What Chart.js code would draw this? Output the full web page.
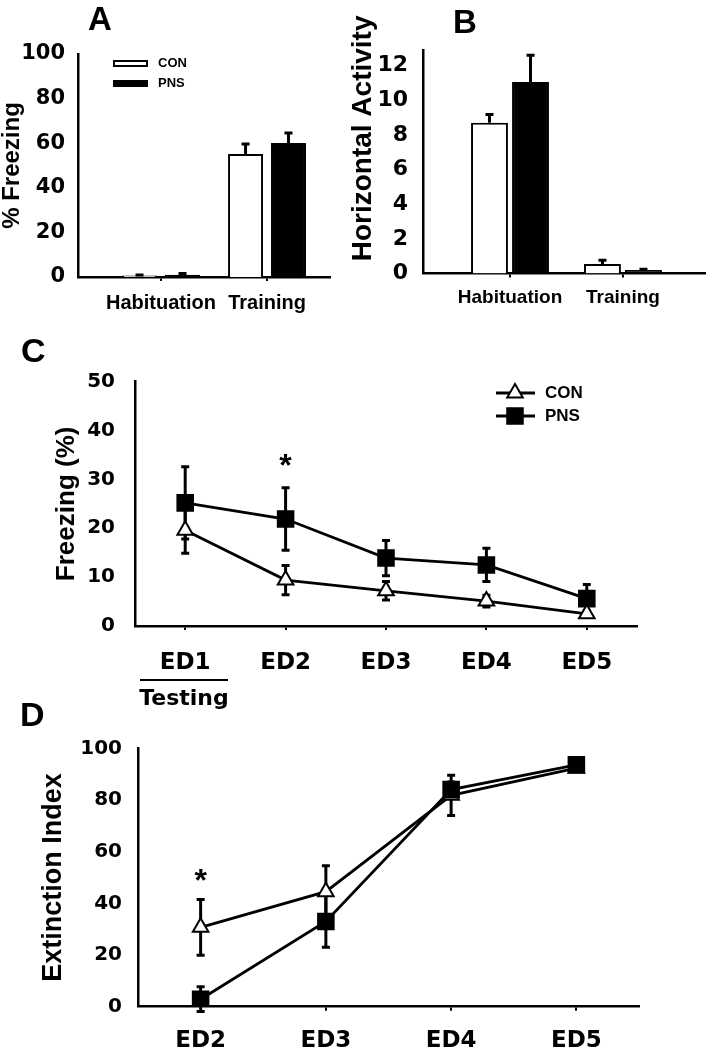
<!DOCTYPE html>
<html>
<head>
<meta charset="utf-8">
<title>Freezing and extinction</title>
<script src="https://cdn.jsdelivr.net/npm/chart.js@4.4.1/dist/chart.umd.min.js"></script>
<style>
body { margin: 0; background: #fff; }
#page { position: relative; width: 706px; height: 1050px; overflow: hidden; background: #fff; }
#page canvas { position: absolute; }
</style>
</head>
<body>
<div id="page">
  <canvas id="panelA" width="340" height="330" style="left:0px;top:0px"></canvas>
  <canvas id="panelB" width="366" height="330" style="left:340px;top:0px"></canvas>
  <canvas id="panelC" width="706" height="400" style="left:0px;top:320px"></canvas>
  <canvas id="panelD" width="706" height="360" style="left:0px;top:690px"></canvas>
</div>
<script>
const SANS = '"Liberation Sans", Arial, sans-serif';
const WIDE = '"DejaVu Sans", Verdana, sans-serif';

// A: % freezing
const phases = ['Habituation', 'Training'];
const freezeCon = [0.7, 55.2];
const freezeConSem = [0.2, 4.4];
const freezePns = [1.0, 60.1];
const freezePnsSem = [0.6, 4.5];

// B: horizontal activity
const activityCon = [8.7, 0.55];
const activityConSem = [0.47, 0.22];
const activityPns = [11.05, 0.2];
const activityPnsSem = [1.55, 0.05];

// C: freezing over extinction days
const testDays = ['ED1', 'ED2', 'ED3', 'ED4', 'ED5'];
const testCon = [19.6, 9.4, 7.2, 5.1, 2.5];
const testConSem = [4.7, 3.0, 1.9, 1.2, 0.6];
const testPns = [25.2, 21.9, 13.9, 12.5, 5.6];
const testPnsSem = [7.4, 6.4, 3.6, 3.4, 2.9];

// D: extinction index
const extDays = ['ED2', 'ED3', 'ED4', 'ED5'];
const extCon = [30.7, 44.5, 81.8, 92.3];
const extConSem = [10.8, 10.0, 7.8, 1.0];
const extPns = [2.9, 33.0, 84.0, 93.6];
const extPnsSem = [4.8, 10.0, 3.0, 1.0];

// error bars, drawn from each dataset's "errors" list
function errorBars(upOnly, under) {
    function draw(chart) {
        const ctx = chart.ctx;
        ctx.save();
        ctx.strokeStyle = '#000';
        ctx.lineWidth = 3;
        chart.data.datasets.forEach((ds, i) => {
            const meta = chart.getDatasetMeta(i);
            const yScale = chart.scales[meta.yAxisID];
            meta.data.forEach((el, j) => {
                const v = meta.controller.getParsed(j).y;
                const e = ds.errors[j];
                const top = yScale.getPixelForValue(v + e);
                const bot = upOnly ? yScale.getPixelForValue(v) : yScale.getPixelForValue(v - e);
                ctx.beginPath();
                ctx.moveTo(el.x, bot);
                ctx.lineTo(el.x, top);
                ctx.moveTo(el.x - 4, top);
                ctx.lineTo(el.x + 4, top);
                if (!upOnly) {
                    ctx.moveTo(el.x - 4, bot);
                    ctx.lineTo(el.x + 4, bot);
                }
                ctx.stroke();
            });
        });
        ctx.restore();
    }
    return {
        id: 'errorBars',
        beforeDatasetsDraw(chart) { if (under) draw(chart); },
        afterDatasetsDraw(chart) { if (!under) draw(chart); }
    };
}

// panel letters, asterisks and other loose text
function notes(items) {
    return {
        id: 'notes',
        afterDraw(chart) {
            const ctx = chart.ctx;
            ctx.save();
            ctx.fillStyle = '#000';
            ctx.strokeStyle = '#000';
            items.forEach(it => {
                if (it.line) {
                    ctx.beginPath();
                    ctx.lineWidth = it.width;
                    ctx.moveTo(it.line[0], it.line[1]);
                    ctx.lineTo(it.line[2], it.line[3]);
                    ctx.stroke();
                    return;
                }
                let x = it.x, y = it.y;
                if (it.at) {
                    x = chart.scales.x.getPixelForValue(it.at[0]);
                    y = chart.scales.y.getPixelForValue(it.at[1]) + (it.dy || 0);
                }
                ctx.font = it.font;
                ctx.textAlign = it.align || 'left';
                ctx.textBaseline = it.baseline || 'alphabetic';
                ctx.fillText(it.text, x, y);
            });
            ctx.restore();
        }
    };
}

// legend drawn inside the plot
function key(o) {
    return {
        id: 'key',
        afterDraw(chart) {
            const ctx = chart.ctx;
            ctx.save();
            chart.data.datasets.forEach((ds, i) => {
                const y = o.y + i * o.gap;
                ctx.strokeStyle = '#000';
                if (o.kind === 'box') {
                    ctx.fillStyle = ds.backgroundColor;
                    ctx.fillRect(o.x, y - o.h / 2, o.w, o.h);
                    ctx.lineWidth = 2;
                    ctx.strokeRect(o.x + 1, y - o.h / 2 + 1, o.w - 2, o.h - 2);
                } else {
                    ctx.lineWidth = ds.borderWidth;
                    ctx.beginPath();
                    ctx.moveTo(o.x1, y);
                    ctx.lineTo(o.x2, y);
                    ctx.stroke();
                    ctx.fillStyle = ds.pointBackgroundColor;
                    ctx.lineWidth = ds.pointBorderWidth;
                    Chart.helpers.drawPoint(ctx, {
                        pointStyle: ds.pointStyle, radius: ds.pointRadius,
                        borderWidth: ds.pointBorderWidth, rotation: 0
                    }, o.mx, y);
                }
                ctx.fillStyle = '#000';
                ctx.font = o.font;
                ctx.textAlign = 'left';
                ctx.textBaseline = 'middle';
                ctx.fillText(ds.label, o.textX, y);
            });
            ctx.restore();
        }
    };
}

function valueAxis(max, step, width, pad, tickSize, title) {
    return {
        min: 0,
        max: max,
        afterFit: s => { s.width = width; },
        ticks: {
            stepSize: step, includeBounds: false, padding: pad, color: '#000',
            font: { family: WIDE, size: tickSize, weight: 'bold' }
        },
        grid: { display: false, drawTicks: false },
        border: { display: true, color: '#000', width: 2.5 },
        title: {
            display: true, color: '#000', text: title.text, padding: { top: title.pad, bottom: 0 },
            font: { family: SANS, size: title.size, weight: 'bold', lineHeight: 1 }
        }
    };
}

function phaseAxis(min, max, height, pad, size) {
    return {
        type: 'linear',
        min: min,
        max: max,
        offset: false,
        afterFit: s => { s.height = height; },
        afterBuildTicks: s => { s.ticks = phases.map((p, i) => ({ value: i + 1 })); },
        ticks: {
            callback: v => phases[v - 1], padding: pad, color: '#000', maxRotation: 0, autoSkip: false,
            font: { family: SANS, size: size, weight: 'bold' }
        },
        grid: { display: true, drawOnChartArea: false, offset: false, tickLength: 4, color: '#000', lineWidth: 2 },
        border: { display: true, color: '#000', width: 2.5 }
    };
}

function dayAxis(height, pad) {
    return {
        offset: true,
        afterFit: s => { s.height = height; },
        ticks: {
            padding: pad, color: '#000', maxRotation: 0, autoSkip: false,
            font: { family: WIDE, size: 23, weight: 'bold' }
        },
        grid: { display: true, drawOnChartArea: false, offset: false, tickLength: 4, color: '#000', lineWidth: 2 },
        border: { display: true, color: '#000', width: 2.5 }
    };
}

function barSet(label, values, sem, fill, cp, bp) {
    return {
        label: label,
        data: values.map((v, i) => ({ x: i + 1, y: v })),
        errors: sem,
        backgroundColor: fill,
        borderColor: '#000',
        borderWidth: 2,
        categoryPercentage: cp,
        barPercentage: bp
    };
}

function lineSet(label, values, sem, style, order) {
    const open = style === 'triangle';
    return {
        label: label,
        data: values,
        errors: sem,
        borderColor: '#000',
        borderWidth: 2.8,
        pointStyle: style,
        pointRadius: open ? 9 : 11,
        pointBackgroundColor: open ? '#fff' : '#000',
        pointBorderColor: '#000',
        pointBorderWidth: 2,
        order: order
    };
}

const common = {
    responsive: false,
    animation: false,
    devicePixelRatio: 1,
    events: []
};
const quiet = { legend: { display: false }, tooltip: { enabled: false } };

// A
new Chart(document.getElementById('panelA'), {
    type: 'bar',
    data: {
        datasets: [
            barSet('CON', freezeCon, freezeConSem, '#fff', 0.81, 0.814),
            barSet('PNS', freezePns, freezePnsSem, '#000', 0.81, 0.814)
        ]
    },
    options: Object.assign({}, common, {
        layout: { padding: { left: 0, top: 54, right: 10, bottom: 0 } },
        plugins: quiet,
        scales: {
            x: phaseAxis(0.217, 2.594, 53, 10.5, 20),
            y: valueAxis(100, 20, 78, 13, 21, { text: '% Freezing', size: 24, pad: 0 })
        }
    }),
    plugins: [
        errorBars(true, false),
        key({ kind: 'box', x: 113, y: 63.5, gap: 20, w: 35, h: 7, textX: 158, font: 'bold 13px ' + SANS }),
        notes([{ text: 'A', x: 88, y: 30, font: 'bold 33px ' + SANS }])
    ]
});

// B
new Chart(document.getElementById('panelB'), {
    type: 'bar',
    data: {
        datasets: [
            barSet('CON', activityCon, activityConSem, '#fff', 0.726, 0.9),
            barSet('PNS', activityPns, activityPnsSem, '#000', 0.726, 0.9)
        ]
    },
    options: Object.assign({}, common, {
        layout: { padding: { left: 0, top: 50, right: 1, bottom: 0 } },
        plugins: quiet,
        scales: {
            x: phaseAxis(0.23, 2.726, 56.5, 8.6, 19),
            y: valueAxis(12.9, 2, 83, 15, 22, { text: '      Horizontal Activity', size: 28, pad: 9 })
        }
    }),
    plugins: [
        errorBars(true, false),
        notes([{ text: 'B', x: 113, y: 33, font: 'bold 33px ' + SANS }])
    ]
});

// C
new Chart(document.getElementById('panelC'), {
    type: 'line',
    data: {
        labels: testDays,
        datasets: [
            lineSet('CON', testCon, testConSem, 'triangle', 0),
            lineSet('PNS', testPns, testPnsSem, 'rect', 1)
        ]
    },
    options: Object.assign({}, common, {
        layout: { padding: { left: 0, top: 61.7, right: 69, bottom: 0 } },
        plugins: quiet,
        scales: {
            x: dayAxis(94, 19.2),
            y: valueAxis(50, 10, 135, 20, 20, { text: 'Freezing (%)', size: 26, pad: 53.5 })
        }
    }),
    plugins: [
        errorBars(false, true),
        key({ kind: 'line', x1: 496, x2: 535, mx: 515, y: 73, gap: 23, textX: 545, font: 'bold 17px ' + SANS }),
        notes([
            { text: 'C', x: 21, y: 42, font: 'bold 34px ' + SANS },
            { text: '*', at: [1, 34.4], dy: 18, align: 'center', font: 'bold 32px ' + SANS },
            { line: [140, 360, 228, 360], width: 2 },
            { text: 'Testing', x: 184, y: 379, align: 'center', baseline: 'middle', font: 'bold 22px ' + WIDE }
        ])
    ]
});

// D
new Chart(document.getElementById('panelD'), {
    type: 'line',
    data: {
        labels: extDays,
        datasets: [
            lineSet('CON', extCon, extConSem, 'triangle', 1),
            lineSet('PNS', extPns, extPnsSem, 'rect', 0)
        ]
    },
    options: Object.assign({}, common, {
        layout: { padding: { left: 0, top: 58.3, right: 67, bottom: 0 } },
        plugins: quiet,
        scales: {
            x: dayAxis(43.3, 16.2),
            y: valueAxis(100, 20, 138, 16, 20, { text: 'Extinction Index', size: 27, pad: 40.5 })
        }
    }),
    plugins: [
        errorBars(false, true),
        notes([
            { text: 'D', x: 20, y: 36, font: 'bold 34px ' + SANS },
            { text: '*', at: [0, 51.9], dy: 18, align: 'center', font: 'bold 32px ' + SANS }
        ])
    ]
});
</script>
</body>
</html>
